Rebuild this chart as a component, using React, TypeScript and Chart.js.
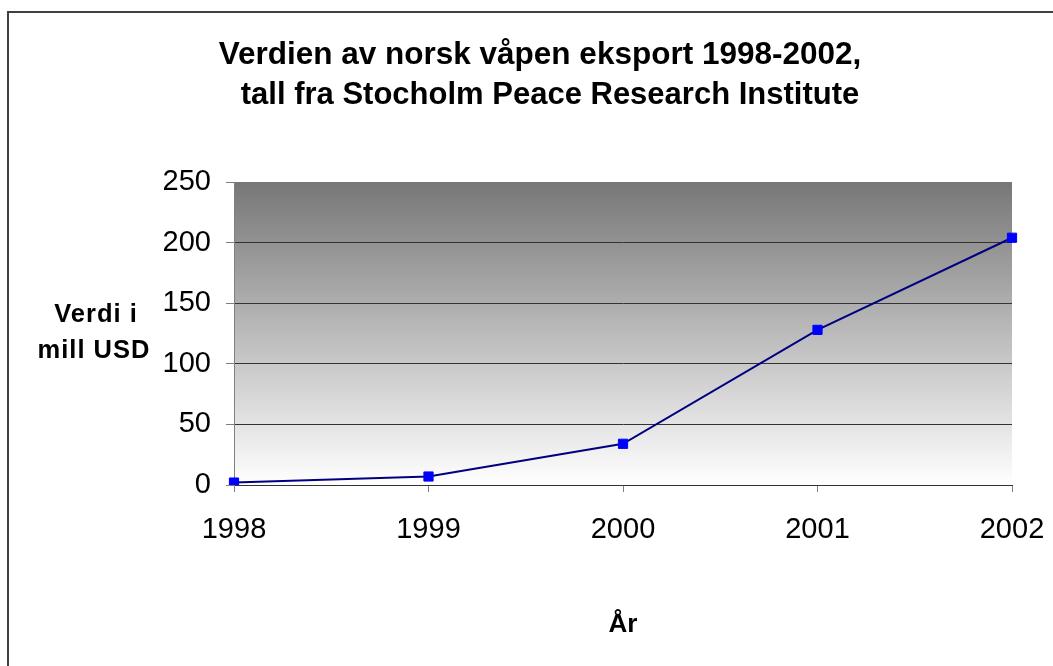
import React, { useEffect, useRef } from "react";
import { Chart, registerables } from "chart.js";

Chart.register(...registerables);

const years = ["1998", "1999", "2000", "2001", "2002"];
const values = [2, 7, 34, 128, 204];
const titleLines = [
  "Verdien av norsk våpen eksport 1998-2002,",
  "tall fra Stocholm Peace Research Institute",
];
const yTitleLines = ["Verdi i", "mill USD"];
const xTitle = "År";

const FONT = '"Liberation Sans", Arial, sans-serif';

const decorPlugin = {
  id: "decor",
  beforeDraw(chart: any) {
    const { ctx, chartArea } = chart;
    ctx.save();
    ctx.fillStyle = "#ffffff";
    ctx.fillRect(0, 0, chart.width, chart.height);
    const g = ctx.createLinearGradient(0, chartArea.top, 0, chartArea.bottom);
    g.addColorStop(0, "#777777");
    g.addColorStop(1, "#ffffff");
    ctx.fillStyle = g;
    ctx.fillRect(chartArea.left, chartArea.top, chartArea.right - chartArea.left, chartArea.bottom - chartArea.top);
    ctx.strokeStyle = "#404040";
    ctx.lineWidth = 2;
    ctx.beginPath();
    ctx.moveTo(8, chart.height);
    ctx.lineTo(8, 12);
    ctx.lineTo(chart.width + 2, 12);
    ctx.stroke();
    ctx.restore();
  },
  afterDraw(chart: any) {
    const { ctx } = chart;
    ctx.save();
    ctx.fillStyle = "#000000";
    ctx.textAlign = "center";
    ctx.textBaseline = "alphabetic";
    ctx.font = `bold 31.5px ${FONT}`;
    ctx.fillText(titleLines[0], 540, 64);
    ctx.font = `bold 31px ${FONT}`;
    ctx.fillText(titleLines[1], 550, 104);
    ctx.font = `bold 25.5px ${FONT}`;
    try { (ctx as any).letterSpacing = "1px"; } catch (e) {}
    ctx.fillText(yTitleLines[0], 96, 322);
    ctx.fillText(yTitleLines[1], 94, 358);
    try { (ctx as any).letterSpacing = "0px"; } catch (e) {}
    ctx.font = `bold 26px ${FONT}`;
    ctx.fillText(xTitle, 623, 632);
    ctx.restore();
  },
};

export default function App() {
  const ref = useRef<HTMLCanvasElement | null>(null);
  useEffect(() => {
    if (!ref.current) return;
    const chart = new Chart(ref.current, {
      type: "line",
      data: {
        labels: years,
        datasets: [
          {
            data: values,
            borderColor: "#000080",
            borderWidth: 2,
            pointStyle: "rect",
            pointRadius: 6.5,
            pointBackgroundColor: "#0000ff",
            pointBorderColor: "#0000ff",
            pointBorderWidth: 1,
            tension: 0,
          },
        ],
      },
      options: {
        animation: false,
        responsive: false,
        maintainAspectRatio: false,
        layout: { padding: { top: 182, right: 41, bottom: 0, left: 0 } },
        plugins: { legend: { display: false }, tooltip: { enabled: false }, title: { display: false } },
        scales: {
          x: {
            type: "category",
            offset: false,
            afterFit(scale: any) {
              scale.height = 181;
              scale.paddingLeft = 0;
              scale.paddingRight = 0;
            },
            grid: {
              drawOnChartArea: false,
              drawTicks: true,
              tickLength: 7,
              tickColor: "#808080",
              color: "#808080",
            },
            border: { color: "#333333", width: 1 },
            ticks: {
              color: "#000000",
              font: { family: FONT, size: 29 },
              padding: 21,
              maxRotation: 0,
              autoSkip: false,
            },
          },
          y: {
            min: 0,
            max: 250,
            afterFit(scale: any) {
              scale.width = 234;
              scale.paddingTop = 0;
              scale.paddingBottom = 0;
            },
            grid: {
              color: (c: any) => (c.tick && c.tick.value === 250 ? "rgba(0,0,0,0)" : "#333333"),
              tickColor: "#808080",
              tickLength: 8,
              lineWidth: 1,
            },
            border: { color: "#808080", width: 1 },
            ticks: {
              stepSize: 50,
              color: "#000000",
              font: { family: FONT, size: 29 },
              padding: 15,
            },
          },
        },
      },
      plugins: [decorPlugin],
    });
    return () => chart.destroy();
  }, []);
  return (
    <div style={{ position: "absolute", left: 0, top: 0, width: 1053, height: 666 }}>
      <canvas ref={ref} width={1053} height={666} style={{ width: 1053, height: 666, display: "block" }} />
    </div>
  );
}
